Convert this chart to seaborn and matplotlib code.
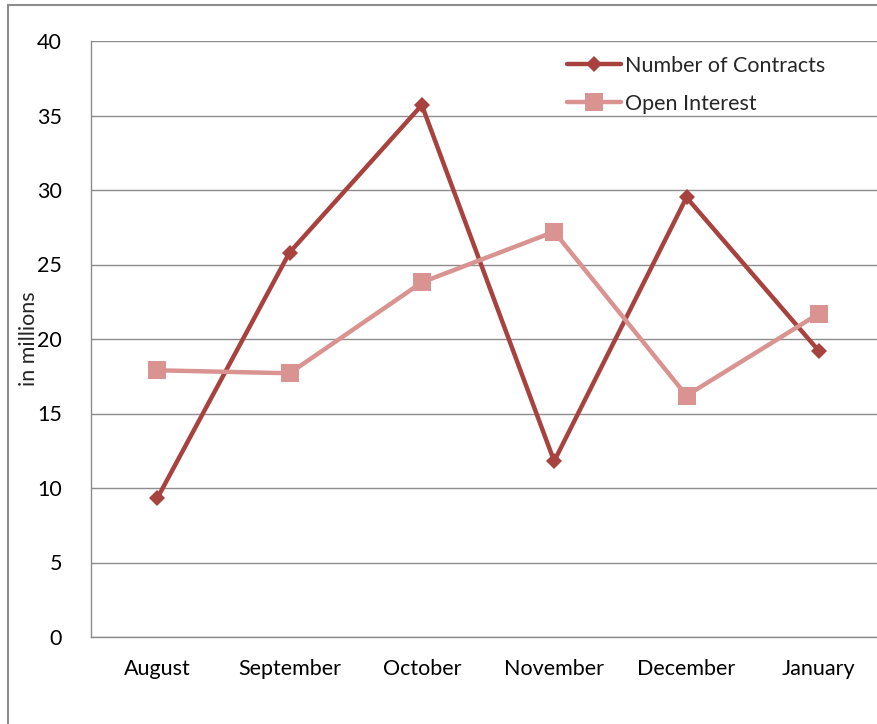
import pandas as pd
import matplotlib.pyplot as plt
import seaborn as sns
from matplotlib.patches import Rectangle

months = ["August", "September", "October", "November", "December", "January"]
contracts = [9.3, 25.8, 35.7, 11.8, 29.5, 19.2]
open_interest = [17.9, 17.7, 23.8, 27.2, 16.2, 21.7]

df = pd.DataFrame({"Month": months, "Number of Contracts": contracts, "Open Interest": open_interest})

sns.set_style("white")
plt.rcParams['font.family'] = ['Lato', 'DejaVu Sans']

fig = plt.figure(figsize=(8.77, 7.24), dpi=100)
ax = fig.add_axes([91/877, 1-637/724, 794/877, 596/724])

sns.lineplot(data=df, x="Month", y="Number of Contracts", ax=ax, color="#A8423F",
             linewidth=3.2, marker="D", markersize=8.5, markeredgewidth=0,
             label="Number of Contracts")
sns.lineplot(data=df, x="Month", y="Open Interest", ax=ax, color="#D99391",
             linewidth=3.2, marker="s", markersize=12.5, markeredgewidth=0,
             label="Open Interest")

ax.set_xlim(-0.5, 5.5)
ax.set_ylim(0, 40)
ax.set_yticks(range(0, 41, 5))
ax.grid(axis="y", color="#8c8c8c", linewidth=1)
ax.set_axisbelow(True)
for s in ["top", "right"]:
    ax.spines[s].set_visible(False)
for s in ["left", "bottom"]:
    ax.spines[s].set_color("#8c8c8c")
    ax.spines[s].set_linewidth(1)
ax.tick_params(axis="both", length=0, labelsize=15.5, colors="black")
ax.tick_params(axis="x", pad=16)
ax.tick_params(axis="y", pad=21)
ax.set_xlabel("")
ax.set_ylabel("in millions", fontsize=15.5)
ax.yaxis.set_label_coords(-0.066, 0.5)

leg = ax.legend(loc="upper left", bbox_to_anchor=(0.575, 1.008), frameon=False,
                fontsize=15.5, handlelength=2.5, handletextpad=0.2, labelspacing=0.85)

fig.patches.append(Rectangle((8/877, -0.05), 1, 1.05-5/724, transform=fig.transFigure,
                             fill=False, edgecolor="#8c8c8c", linewidth=1.5, clip_on=False))

fig.savefig("out.png", dpi=100)
